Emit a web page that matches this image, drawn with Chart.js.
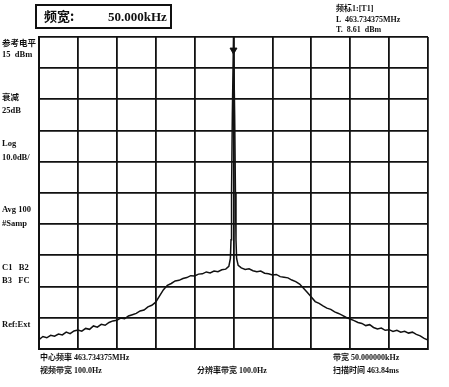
<!DOCTYPE html>
<html>
<head>
<meta charset="utf-8">
<script src="https://cdn.jsdelivr.net/npm/chart.js@4"></script>
<style>
  html, body { margin: 0; padding: 0; background: #fff; }
  #wrap { position: relative; width: 449px; height: 387px; }
  canvas { position: absolute; left: 0; top: 0; }
  .t {
    position: absolute;
    font-family: "Liberation Serif", "Noto Sans CJK SC", serif;
    font-weight: bold;
    color: #111;
    white-space: pre;
    line-height: 1;
  }
  .side { font-size: 8.5px; left: 2px; }
  .foot { font-size: 8px; }
  .mk { font-size: 8px; left: 336px; }
  #spanBox {
    position: absolute; left: 35px; top: 4px; width: 133px; height: 21px;
    border: 2px solid #111;
  }
</style>
</head>
<body>
<div id="wrap">
  <canvas id="chart" width="449" height="387"></canvas>
  <div id="spanBox"></div>
  <div class="t" style="left:44px;top:9px;font-size:13px;font-family:'Noto Sans CJK SC';">频宽:</div>
  <div class="t" style="left:108px;top:10px;font-size:13px;">50.000kHz</div>

  <div class="t mk" style="top:5px;">频标1:[T1]</div>
  <div class="t mk" style="top:16px;">L  463.734375MHz</div>
  <div class="t mk" style="top:26px;">T.  8.61  dBm</div>

  <div class="t side" style="top:39px;">参考电平</div>
  <div class="t side" style="top:50px;">15  dBm</div>
  <div class="t side" style="top:93px;">衰减</div>
  <div class="t side" style="top:106px;">25dB</div>
  <div class="t side" style="top:139px;">Log</div>
  <div class="t side" style="top:153px;">10.0dB/</div>
  <div class="t side" style="top:205px;">Avg 100</div>
  <div class="t side" style="top:219px;">#Samp</div>
  <div class="t side" style="top:263px;">C1   B2</div>
  <div class="t side" style="top:276px;">B3   FC</div>
  <div class="t side" style="top:320px;">Ref:Ext</div>

  <div class="t foot" style="left:40px;top:354px;">中心频率 463.734375MHz</div>
  <div class="t foot" style="left:40px;top:367px;">视频带宽 100.0Hz</div>
  <div class="t foot" style="left:197px;top:367px;">分辨率带宽 100.0Hz</div>
  <div class="t foot" style="left:333px;top:354px;">带宽 50.000000kHz</div>
  <div class="t foot" style="left:333px;top:367px;">扫描时间 463.84ms</div>
</div>
<script>
// frequency offset from centre (kHz) and measured level (dBm)
const freqKHz = [
  -25, -24.5, -24, -23.5, -23, -22.5, -22, -21.5, -21, -20.5,
  -20, -19.5, -19, -18.5, -18, -17.5, -17, -16.5, -16, -15.5,
  -15, -14.5, -14, -13.5, -13, -12.5, -12, -11.5, -11, -10.5,
  -10, -9.5, -9, -8.5, -8, -7.5, -7, -6.5, -6, -5.5,
  -5, -4.5, -4, -3.5, -3, -2.5, -2, -1.5, -1, -0.6,
  -0.4, -0.32, -0.25, -0.15, 0, 0.15, 0.25, 0.32, 0.4, 0.6,
  1, 1.5, 2, 2.5, 3, 3.5, 4, 4.5, 5, 5.5,
  6, 6.5, 7, 7.5, 8, 8.5, 9, 9.5, 10, 10.5,
  11, 11.5, 12, 12.5, 13, 13.5, 14, 14.5, 15, 15.5,
  16, 16.5, 17, 17.5, 18, 18.5, 19, 19.5, 20, 20.5,
  21, 21.5, 22, 22.5, 23, 23.5, 24, 24.5, 25,
];
const levelDbm = [
  -82.0, -81.0, -81.4, -80.6, -80.9, -80.2, -80.5, -79.6, -80.1, -79.2,
  -78.9, -79.3, -78.4, -78.7, -77.6, -78.0, -77.1, -77.4, -76.5, -76.0,
  -75.8, -75.1, -75.3, -74.4, -74.0, -73.6, -72.8, -72.5, -71.5, -71.0,
  -70.0, -68.0, -66.0, -64.6, -64.0, -63.2, -63.0, -62.4, -62.1, -61.5,
  -61.6, -61.0, -60.9, -60.3, -60.6, -60.0, -60.2, -59.6, -59.4, -58.5,
  -56, -50, -35, -10, 15, -10, -35, -50, -56, -58.2,
  -59.0, -59.5, -59.3, -59.9, -60.2, -60.0, -60.7, -60.9, -61.3, -61.1,
  -61.8, -62.0, -62.2, -62.9, -63.4, -64.2, -65.5, -66.9, -68.3, -69.8,
  -70.4, -71.2, -71.9, -72.3, -73.1, -73.6, -74.2, -74.9, -75.4, -75.9,
  -76.5, -76.8, -77.5, -77.2, -78.1, -78.6, -78.3, -79.0, -78.8, -79.4,
  -79.0, -79.6, -79.3, -79.9, -79.6, -80.3, -80.8, -81.6, -82.1,
];
const markerFreq = [0];
const markerLevel = [10.8];

const ink = "#111";

new Chart(document.getElementById("chart"), {
  type: "line",
  data: {
    datasets: [
      {
        data: freqKHz.map((f, i) => ({ x: f, y: levelDbm[i] })),
        borderColor: ink,
        borderWidth: 1.5,
        pointRadius: 0,
        tension: 0,
        fill: false,
      },
      {
        data: markerFreq.map((f, i) => ({ x: f, y: markerLevel[i] })),
        showLine: false,
        pointStyle: "triangle",
        rotation: 180,
        pointRadius: 4,
        backgroundColor: ink,
        borderColor: ink,
      },
    ],
  },
  options: {
    responsive: false,
    animation: false,
    layout: { padding: { left: 39, right: 21, top: 37, bottom: 38 } },
    plugins: { legend: { display: false }, tooltip: { enabled: false } },
    scales: {
      x: {
        type: "linear",
        min: -25,
        max: 25,
        ticks: { display: false, stepSize: 5 },
        grid: { color: ink, lineWidth: 1.8, drawTicks: false },
        border: { display: true, color: ink, width: 2 },
      },
      y: {
        min: -85,
        max: 15,
        ticks: { display: false, stepSize: 10 },
        grid: { color: ink, lineWidth: 1.8, drawTicks: false },
        border: { display: true, color: ink, width: 2 },
      },
    },
  },
});
</script>
</body>
</html>
